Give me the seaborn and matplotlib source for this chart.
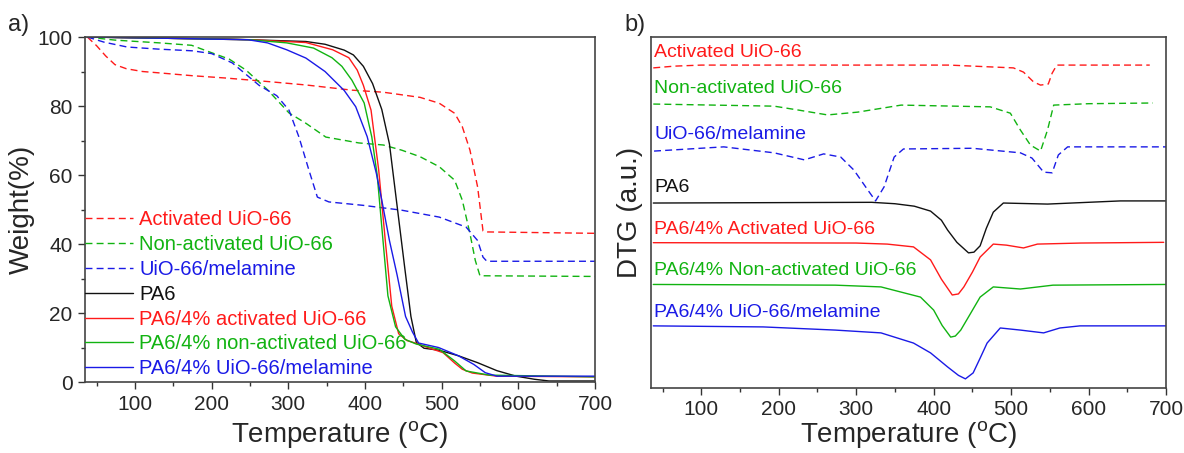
"""TGA / DTG curves of PA6 and UiO-66 composites."""

import matplotlib
matplotlib.use("Agg")
import matplotlib.pyplot as plt
import pandas as pd
import seaborn as sns
from matplotlib.ticker import MultipleLocator

# ---- a) TGA weight curves (temperature in C, weight in %) ----
act_uio_t = [38, 50, 62, 74, 89, 110, 132, 174, 219, 273, 323, 383, 424, 472, 497, 517, 527, 537, 547, 554, 560, 700]
act_uio_w = [100, 97.5, 94.5, 92, 90.8, 90, 89.6, 88.8, 88.1, 87.1, 86.1, 84.6, 84.0, 82.5, 80.8, 77.9, 74, 67.2, 56.5, 43.8, 43.5, 43.1]

nonact_uio_t = [38, 74, 132, 174, 197, 223, 245, 273, 301, 323, 349, 392, 424, 448, 472, 497, 517, 527, 537, 544, 550, 700]
nonact_uio_w = [100, 99.1, 98.3, 97.6, 95.7, 93.6, 90.4, 84.7, 78, 75, 71, 69.3, 68.7, 67.2, 65.3, 62.4, 58.5, 52.7, 43, 35.2, 30.8, 30.6]

mel_uio_t = [38, 60, 90, 130, 175, 200, 227, 262, 285, 301, 314, 327, 338, 353, 398, 448, 497, 532, 547, 554, 559, 700]
mel_uio_w = [100, 98.5, 97.1, 96.5, 96, 95.2, 92.5, 86, 83, 78.8, 71, 61.4, 53.6, 52.2, 51.2, 49.8, 47.8, 44.9, 41, 36.2, 35, 35]

pa6_t = [38, 150, 223, 323, 348, 373, 385, 398, 410, 422, 432, 442, 452, 460, 467, 477, 497, 522, 547, 572, 597, 621, 640, 700]
pa6_w = [100, 99.6, 99.4, 98.7, 97.9, 96.2, 94.8, 91.5, 86.5, 79, 69, 51, 33, 19, 11.5, 9.8, 9.2, 7.6, 5.6, 3.3, 1.7, 0.8, 0.3, 0.3]

pa6_act_t = [38, 150, 250, 323, 358, 379, 390, 398, 408, 418, 427, 435, 444, 455, 467, 482, 502, 517, 527, 540, 572, 700]
pa6_act_w = [100, 99.6, 99.2, 98.4, 96.3, 94, 90.4, 86, 78.8, 61.4, 40, 22, 14, 12, 11.2, 10, 8.5, 5.5, 3.7, 2.6, 1.7, 1.5]

pa6_nonact_t = [38, 150, 250, 298, 333, 357, 370, 383, 399, 409, 416, 422, 430, 440, 452, 467, 497, 517, 532, 562, 700]
pa6_nonact_w = [100, 99.6, 99.2, 98.3, 96.8, 94, 91.5, 87.5, 80.9, 71, 60, 45, 25, 16, 12.4, 11, 9.5, 6.1, 3.2, 2, 1.5]

pa6_mel_t = [38, 150, 248, 273, 298, 323, 348, 373, 388, 403, 415, 422, 432, 442, 453, 462, 470, 496, 522, 542, 557, 572, 700]
pa6_mel_w = [100, 99.6, 99.2, 98.3, 96.3, 93.9, 90, 84.5, 79.8, 71.1, 60.4, 52.7, 41, 31, 19, 14.5, 11.3, 10, 7.6, 5.1, 2.7, 1.7, 1.7]

# ---- b) DTG curves (arbitrary units, offset stacked) ----
dtg_act_t = [38, 65, 100, 200, 332, 420, 503, 516, 529, 538, 548, 553, 559, 600, 679]
dtg_act_v = [91.2, 91.7, 92.0, 92.0, 92.0, 92.0, 91.2, 90.0, 87.2, 86.3, 86.6, 89.7, 92.0, 92.0, 92.0]

dtg_nonact_t = [38, 194, 225, 263, 302, 358, 473, 499, 512, 525, 538, 547, 555, 600, 683]
dtg_nonact_v = [80.9, 80.3, 79.2, 77.8, 78.6, 80.6, 80.1, 78.3, 73.5, 69.2, 67.5, 73.5, 80.6, 81.0, 81.2]

dtg_mel_t = [39, 129, 194, 233, 258, 280, 297, 315, 325, 336, 349, 361, 450, 512, 527, 542, 553, 561, 573, 700]
dtg_mel_v = [67.5, 68.7, 67.0, 65.0, 66.7, 65.8, 62.1, 56.4, 53.3, 57.3, 65.8, 68.1, 68.3, 67.0, 65.5, 61.5, 61.3, 66.4, 68.7, 68.7]

dtg_pa6_t = [38, 320, 350, 375, 396, 410, 418, 430, 445, 452, 460, 468, 477, 490, 547, 641, 700]
dtg_pa6_v = [52.7, 52.9, 52.5, 51.8, 50.4, 47.8, 45.0, 41.5, 38.5, 38.7, 40.5, 45.5, 50.1, 52.7, 52.4, 53.3, 53.3]

dtg_pa6_act_t = [38, 300, 340, 374, 396, 410, 424, 432, 439, 450, 460, 477, 494, 516, 534, 590, 697]
dtg_pa6_act_v = [41.4, 41.3, 41.0, 40.2, 36.5, 31.0, 26.5, 26.8, 28.8, 33.0, 37.3, 41.0, 40.7, 39.9, 41.0, 41.3, 41.5]

dtg_pa6_nonact_t = [38, 273, 332, 383, 400, 411, 422, 428, 435, 447, 460, 477, 512, 554, 700]
dtg_pa6_nonact_v = [29.5, 29.3, 28.8, 25.9, 22.2, 17.8, 14.5, 14.8, 16.5, 21.0, 25.9, 28.8, 28.2, 29.3, 29.5]

dtg_pa6_mel_t = [38, 180, 273, 332, 374, 396, 418, 432, 441, 451, 460, 469, 486, 512, 542, 563, 589, 700]
dtg_pa6_mel_v = [17.7, 17.4, 16.5, 15.7, 12.8, 10.0, 6.0, 3.6, 2.6, 4.3, 8.5, 12.8, 17.1, 16.5, 15.7, 17.1, 17.7, 17.7]

dtg_labels = ["Activated UiO-66", "Non-activated UiO-66", "UiO-66/melamine", "PA6",
              "PA6/4% Activated UiO-66", "PA6/4% Non-activated UiO-66", "PA6/4% UiO-66/melamine"]
dtg_label_y = [95.7, 85.4, 72.1, 57.1, 45.2, 33.6, 21.5]

RED, GREEN, BLUE, BLACK = "#ff1a1a", "#11b311", "#1a1ae6", "#111111"
DASH = (0, (5, 3))

sns.set_theme(style="ticks")
plt.rcParams["font.family"] = ["Liberation Sans", "DejaVu Sans"]
plt.rcParams["mathtext.fontset"] = "custom"
plt.rcParams["mathtext.rm"] = "Liberation Sans"

fig = plt.figure(figsize=(11.84, 4.53), dpi=100)
ax1 = fig.add_axes([0.0718, 0.1567, 0.4307, 0.7616])
ax2 = fig.add_axes([0.5498, 0.1435, 0.4350, 0.7748])

tga = [
    (act_uio_t, act_uio_w, RED, DASH, "Activated UiO-66"),
    (nonact_uio_t, nonact_uio_w, GREEN, DASH, "Non-activated UiO-66"),
    (mel_uio_t, mel_uio_w, BLUE, DASH, "UiO-66/melamine"),
    (pa6_t, pa6_w, BLACK, "-", "PA6"),
    (pa6_act_t, pa6_act_w, RED, "-", "PA6/4% activated UiO-66"),
    (pa6_nonact_t, pa6_nonact_w, GREEN, "-", "PA6/4% non-activated UiO-66"),
    (pa6_mel_t, pa6_mel_w, BLUE, "-", "PA6/4% UiO-66/melamine"),
]
for t, w, color, ls, label in tga:
    df = pd.DataFrame({"T": t, "W": w})
    sns.lineplot(data=df, x="T", y="W", ax=ax1, color=color, linestyle=ls,
                 linewidth=1.0, label=label, sort=False, estimator=None)

dtg = [
    (dtg_act_t, dtg_act_v, RED, DASH),
    (dtg_nonact_t, dtg_nonact_v, GREEN, DASH),
    (dtg_mel_t, dtg_mel_v, BLUE, DASH),
    (dtg_pa6_t, dtg_pa6_v, BLACK, "-"),
    (dtg_pa6_act_t, dtg_pa6_act_v, RED, "-"),
    (dtg_pa6_nonact_t, dtg_pa6_nonact_v, GREEN, "-"),
    (dtg_pa6_mel_t, dtg_pa6_mel_v, BLUE, "-"),
]
for (t, v, color, ls), label, ly in zip(dtg, dtg_labels, dtg_label_y):
    df = pd.DataFrame({"T": t, "V": v})
    sns.lineplot(data=df, x="T", y="V", ax=ax2, color=color, linestyle=ls,
                 linewidth=1.0, sort=False, estimator=None)
    ax2.text(0.006, ly / 100, label, transform=ax2.transAxes, color=color,
             fontsize=14, ha="left", va="center")

for ax in (ax1, ax2):
    ax.set_xlim(35, 700)
    ax.xaxis.set_major_locator(MultipleLocator(100))
    ax.xaxis.set_minor_locator(MultipleLocator(50))
    ax.tick_params(which="major", direction="out", length=5, width=1.0,
                   color="#333333", labelsize=15, pad=4)
    ax.tick_params(which="minor", direction="out", length=3, width=1.0, color="#333333")
    for sp in ax.spines.values():
        sp.set_visible(True)
        sp.set_color("#444444")
        sp.set_linewidth(1.2)

ax1.set_xlabel(r"Temperature ($\mathregular{^o}$C)", fontsize=20, labelpad=4)
ax2.set_xlabel(r"Temperature ($\mathregular{^o}$C)", fontsize=20, labelpad=0)

ax1.set_ylim(0, 100)
ax1.yaxis.set_major_locator(MultipleLocator(20))
ax1.yaxis.set_minor_locator(MultipleLocator(10))
ax1.set_ylabel("Weight(%)", fontsize=20, labelpad=2)
ax1.legend(loc="upper left", bbox_to_anchor=(0.0, 0.498), frameon=False,
           fontsize=14.5, labelcolor="linecolor", handlelength=2.4,
           handletextpad=0.3, labelspacing=0.29, borderpad=0, borderaxespad=0)

ax2.set_ylim(0, 100)
ax2.set_yticks([])
ax2.set_ylabel("DTG (a.u.)", fontsize=20, labelpad=6)

fig.text(0.007, 0.945, "a)", fontsize=17, ha="left", va="center")
fig.text(0.527, 0.945, "b)", fontsize=17, ha="left", va="center")

fig.savefig("out.png", dpi=100)
